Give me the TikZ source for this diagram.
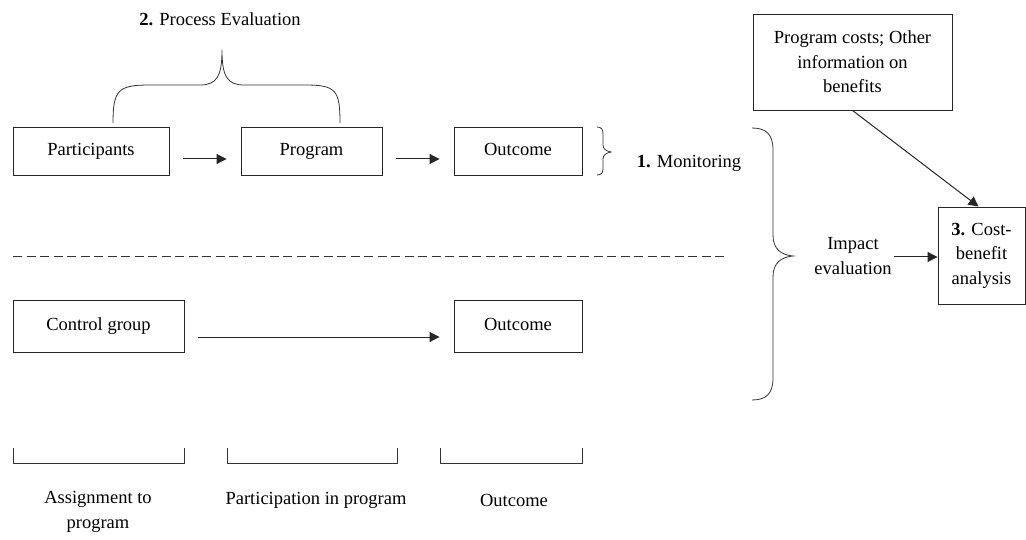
\documentclass[tikz,border=0pt]{standalone}
\usepackage{fontspec}
\setmainfont{Liberation Serif}
\newfontfamily\tnr{Liberation Serif}
\usetikzlibrary{arrows.meta,calc}
\begin{document}
\begin{tikzpicture}[x=1pt,y=-1pt,
  every node/.style={font=\tnr\fontsize{18.5}{24.5}\selectfont, text=black},
  box/.style={draw=black!85, line width=0.9pt, inner sep=0pt, align=center},
  lbl/.style={inner sep=0pt, align=center},
  arr/.style={draw=black!85, line width=1pt, -{Triangle[length=10pt,width=10pt]}},
  ln/.style={draw=black!80, line width=0.8pt}]
\useasboundingbox (0,0) rectangle (1026,540);
% top row
\node[box, minimum width=156, minimum height=48] (part) at (91,151) {Participants\vphantom{g}};
\node[box, minimum width=141, minimum height=48] (prog) at (311.5,151) {Program};
\node[box, minimum width=128, minimum height=48] (out1) at (518,151) {Outcome\vphantom{g}};
\draw[arr] ($(part.east)+(14,8)$) -- ($(prog.west)+(-14,8)$);
\draw[arr] ($(prog.east)+(14,8)$) -- ($(out1.west)+(-14,8)$);
% process evaluation brace
\draw[ln] (113,123) .. controls (113,90) and (118,85) .. (150,85) -- (200,85)
  .. controls (217,85) and (222,76) .. (222,50)
  .. controls (222,76) and (227,85) .. (244,85) -- (305,85)
  .. controls (336,85) and (340,90) .. (340,123);
\node[lbl] (pe) at (220,19) {\textbf{2.} Process Evaluation};
% monitoring brace
\draw[ln] (597,127) .. controls (601,127) and (603,129) .. (603,134) -- (603,145)
  .. controls (603,149) and (606,151) .. (611,152)
  .. controls (606,153) and (603,155) .. (603,159) -- (603,169)
  .. controls (603,173) and (601,175) .. (597,175);
\node[lbl] (mon) at (689,163) {\textbf{1.} Monitoring};
% dashed line
\coordinate (dl) at (13,256);
\coordinate (dr) at (725,256);
\draw[ln, dash pattern=on 9pt off 4.5pt] (dl) -- (dr);
% bottom row
\node[box, minimum width=171, minimum height=52] (ctrl) at (98.5,326) {Control group};
\node[box, minimum width=128, minimum height=52] (out2) at (518,326) {Outcome\vphantom{g}};
\draw[arr] ($(ctrl.east)+(14,11)$) -- ($(out2.west)+(-14,11)$);
% big brace
\draw[ln] (752,128) .. controls (766,128) and (773,134) .. (773,150) -- (773,235)
  .. controls (773,249) and (781,255) .. (793,256)
  .. controls (781,257) and (773,263) .. (773,277) -- (773,378)
  .. controls (773,394) and (766,400) .. (752,400);
\node[lbl] (imp) at (853,256) {Impact\\evaluation};
% right boxes
\node[box, minimum width=199, minimum height=96] (cost) at (852.5,62) {Program costs; Other\\information on\\benefits};
\node[box, minimum width=87, minimum height=97] (cba) at (981.5,255.5) {\textbf{3.} Cost-\\benefit\\analysis};
\draw[arr] (cost.south) -- ($(cba.north)+(-3,0)$);
\draw[arr] ($(imp.east)+(2,1)$) -- ($(cba.west)+(0,1.5)$);
% bottom brackets
\draw[ln] (13,448) -- (13,463) -- (184,463) -- (184,448);
\draw[ln] (227,448) -- (227,463) -- (397,463) -- (397,448);
\draw[ln] (440,448) -- (440,463) -- (582,463) -- (582,448);
\node[lbl] (l1) at (98,512) {Assignment to\\program};
\node[lbl] (l2) at (316,500) {Participation in program};
\node[lbl] (l3) at (514,500) {Outcome};
\end{tikzpicture}
\end{document}
